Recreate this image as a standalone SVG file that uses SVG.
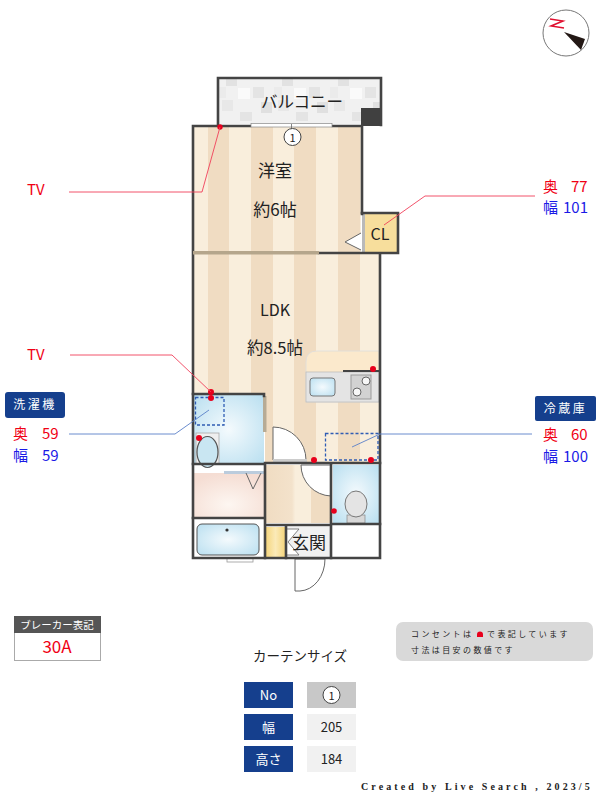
<svg xmlns="http://www.w3.org/2000/svg" width="600" height="800" viewBox="0 0 600 800">
<style>
text{font-family:"Noto Sans CJK JP","Noto Sans",sans-serif;fill:#222}
.m{text-anchor:middle}
.wall{fill:none;stroke:#444;stroke-width:2.600;stroke-linecap:square}
.rl{fill:none;stroke:#f0405a;stroke-width:.9}
.bl{fill:none;stroke:#5a80c8;stroke-width:.9}
.dash{fill:none;stroke:#2f5cb4;stroke-width:1.300;stroke-dasharray:3 2}
.out{fill:#e8001c}
.navy{fill:#153f8d}
.side{font-size:15px}
.door{fill:#fff;stroke:#666;stroke-width:1}
.note{font-size:8px;letter-spacing:2.400px}
</style>
<defs>
<linearGradient id="wood" gradientUnits="userSpaceOnUse" x1="186" y1="0" x2="229.4" y2="0" spreadMethod="repeat">
<stop offset="0" stop-color="#f9eedc"/><stop offset=".5" stop-color="#f9eedc"/><stop offset=".5" stop-color="#f0dcc2"/><stop offset="1" stop-color="#f0dcc2"/>
</linearGradient>
<radialGradient id="aqua" cx=".5" cy=".5" r=".7"><stop offset="0" stop-color="#f4fafd"/><stop offset="1" stop-color="#b9dff0"/></radialGradient>
<radialGradient id="pink" cx=".5" cy=".7" r=".7"><stop offset="0" stop-color="#fdf6f1"/><stop offset="1" stop-color="#f5ddd3"/></radialGradient>
<linearGradient id="yel" x1="0" x2="1" y1="0" y2="0"><stop offset="0" stop-color="#f5d67e"/><stop offset=".5" stop-color="#fbeab8"/><stop offset="1" stop-color="#f5d67e"/></linearGradient>
<linearGradient id="hall" x1="0" x2="1" y1="0" y2="0"><stop offset="0" stop-color="#f0dcc2"/><stop offset=".4" stop-color="#f3e2cb"/><stop offset=".45" stop-color="#f9eedc"/><stop offset=".7" stop-color="#f9eedc"/><stop offset=".7" stop-color="#f0dcc2"/><stop offset="1" stop-color="#f0dcc2"/></linearGradient>
<pattern id="tile" patternUnits="userSpaceOnUse" x="218" y="78" width="56" height="45">
<rect width="56" height="45" fill="#f1f1f1"/>
<rect x="8" y="1" width="11" height="7" fill="#e2e2e2"/><rect x="35" y="9" width="11" height="11" fill="#e4e4e4"/>
<rect x="20" y="10" width="12" height="11" fill="#fafafa"/><rect x="4" y="22" width="11" height="11" fill="#e8e8e8"/>
<rect x="43" y="24" width="11" height="11" fill="#e0e0e0"/><rect x="22" y="34" width="12" height="9" fill="#e4e4e4"/>
<rect x="0" y="9" width="8" height="11" fill="#ebebeb"/>
</pattern>
</defs>

<g id="balcony">
<rect x="218" y="78" width="163" height="46" fill="url(#tile)"/>
<rect x="361" y="108" width="21" height="18" fill="#404040"/>
<path class="wall" d="M218 125V78H381V125"/>
<text class="m" x="302" y="108" font-size="16.500">バルコニー</text>
</g>

<g id="room-western">
<rect x="193" y="126" width="168" height="126" fill="url(#wood)"/>
<text class="m" x="275" y="177" font-size="17">洋室</text>
<text class="m" x="275" y="216" font-size="17">約6帖</text>
</g>

<g id="room-ldk">
<rect x="193" y="254" width="186" height="140" fill="url(#wood)"/>
<rect x="265" y="394" width="114" height="69" fill="url(#wood)"/>
<text class="m" x="275" y="316" font-size="16">LDK</text>
<text class="m" x="275" y="354" font-size="16.500">約8.5帖</text>
</g>

<g id="closet">
<rect x="363" y="214" width="35" height="39" fill="#f7de9c"/>
<rect x="362" y="214" width="3" height="39" fill="#b9b9b9"/>
<path d="M361 233L345 242L361 250" fill="#fff" stroke="#666" stroke-width="1"/>
<path class="wall" d="M362 213H398V253H319"/>
<text class="m" x="380" y="240" font-size="16">CL</text>
</g>

<g id="kitchen">
<path d="M306 402V362Q306 351 317 351H379V402Z" fill="#fbe9cc" stroke="#ddd" stroke-width=".8"/>
<rect x="306" y="372" width="73" height="30" fill="#e4e4e4" stroke="#bdbdbd" stroke-width=".8"/>
<rect x="310" y="378" width="25" height="18" rx="3" fill="url(#aqua)" stroke="#777"/>
<rect x="351" y="375" width="20" height="24" fill="#d2d2d2" stroke="#999"/>
<circle cx="366" cy="381" r="4" fill="#f7f7f7" stroke="#666"/><circle cx="357" cy="392" r="4" fill="#f7f7f7" stroke="#666"/>
<path d="M343 371H380" stroke="#444" stroke-width="2"/>
</g>

<g id="washroom">
<rect x="193" y="395" width="71" height="69" fill="url(#aqua)"/>
<rect x="196" y="433" width="23" height="31" fill="#efefef" stroke="#aaa" stroke-width=".8"/>
<ellipse cx="207.500" cy="452" rx="10.500" ry="15.500" fill="#c9e6f2" stroke="#555" stroke-width="1.200"/>
<rect x="195.500" y="397.500" width="28.500" height="27.500" class="dash"/>
<rect x="263" y="396" width="3.500" height="36" fill="#b7ab95"/>
<path class="wall" d="M193 394H264V396"/>
</g>

<g id="ldk-door">
<path class="door" d="M273 460V427A33 33 0 0 1 306 460Z"/>
<rect x="273" y="459" width="34" height="3" fill="#ccc"/>
</g>

<g id="dressing">
<rect x="193" y="473" width="71" height="45" fill="url(#pink)"/>
<rect x="224" y="471" width="40" height="3" fill="#bcd"/>
<path d="M246 473L253 489L261 473" fill="none" stroke="#666" stroke-width="1"/>
</g>

<g id="bath">
<rect x="193" y="520" width="71" height="38" fill="#fff"/>
<rect x="197" y="524" width="62" height="31" rx="5" fill="url(#aqua)" stroke="#555" stroke-width="1"/>
<circle cx="227" cy="530" r="1.600" fill="#333"/>
<rect x="227" y="558" width="26" height="4" fill="#fff" stroke="#999" stroke-width=".8"/>
</g>

<g id="hall">
<rect x="266" y="465" width="65" height="58" fill="url(#hall)"/>
<path class="door" d="M301 465A31 31 0 0 0 331 496V465Z"/>
</g>

<g id="toilet">
<rect x="333" y="465" width="46" height="58" fill="url(#aqua)"/>
<rect x="347" y="515" width="18" height="8" fill="#d8d8d8" stroke="#888" stroke-width=".7"/>
<ellipse cx="356" cy="504" rx="11" ry="13" fill="#e4e4e4" stroke="#777"/>
</g>

<g id="entrance">
<rect x="266" y="527" width="19" height="31" fill="url(#yel)"/>
<rect x="287" y="527" width="44" height="31" fill="#f1f1f1"/>
<path d="M287 529H299L288 542L299 555H287" fill="#fff" stroke="#666" stroke-width=".8"/>
<path class="door" d="M295 559V591H300A26 32 0 0 0 325 559Z"/>
<text class="m" x="309" y="549" font-size="17">玄関</text>
</g>

<g id="walls">
<path class="wall" d="M193 126H250M333 126H362V214M193 126V558H380V254"/>
<path class="wall" d="M193 464H264M193 518H264M265 465V558M265 463H380M331 463V558M331 524H380M265 525H331M286 526V558"/>
<rect x="193" y="251" width="126" height="3.500" fill="#b5a68c"/>
<rect x="251" y="123.500" width="81" height="3.500" fill="#fff" stroke="#888" stroke-width=".7"/>
<path d="M291.500 124V130" stroke="#666" stroke-width=".8"/>
<circle cx="292.500" cy="137" r="8.500" fill="#fff" stroke="#444"/>
<text class="m" x="292.500" y="141.500" font-size="11">1</text>
</g>

<g id="fridge-space">
<rect x="325.500" y="433.500" width="52.500" height="26.500" class="dash"/>
</g>

<g id="outlets">
<circle class="out" cx="220" cy="127" r="2.700"/>
<circle class="out" cx="211" cy="392" r="3"/><circle class="out" cx="211" cy="398" r="3"/>
<circle class="out" cx="373" cy="369" r="3"/><circle class="out" cx="314" cy="460" r="3"/><circle class="out" cx="371" cy="460" r="3"/>
<circle class="out" cx="199" cy="438" r="3"/><circle class="out" cx="334" cy="511" r="2.800"/>
</g>

<g id="connectors">
<path class="rl" d="M69 192H202L220 127"/>
<path class="rl" d="M70 355H172L211 392"/>
<path class="rl" d="M535 196H425L384 225"/>
<path class="bl" d="M69 434H175L209 410"/>
<path class="bl" d="M532 434H380L352 447"/>
</g>

<g id="tv-labels">
<text style="fill:#f00014" class="side" x="27" y="195">TV</text>
<text style="fill:#f00014" class="side" x="27" y="360">TV</text>
</g>

<g id="cl-size">
<text style="fill:#f00014" class="side" x="543" y="192">奥</text><text style="fill:#f00014" class="side" x="571" y="192">77</text>
<text style="fill:#1a1ae6" class="side" x="543" y="213">幅</text><text style="fill:#1a1ae6" class="side" x="563" y="213">101</text>
</g>

<g id="washer">
<rect class="navy" x="5" y="392" width="60" height="26" rx="3"/>
<text class="m" style="fill:#fff" x="35" y="409" font-size="12" letter-spacing="2.500">洗濯機</text>
<text style="fill:#f00014" class="side" x="13" y="439">奥</text><text style="fill:#f00014" class="side" x="42" y="439">59</text>
<text style="fill:#1a1ae6" class="side" x="13" y="461">幅</text><text style="fill:#1a1ae6" class="side" x="42" y="461">59</text>
</g>

<g id="fridge">
<rect class="navy" x="535" y="396" width="61" height="25" rx="2"/>
<text class="m" style="fill:#fff" x="565.500" y="413" font-size="12" letter-spacing="2.500">冷蔵庫</text>
<text style="fill:#f00014" class="side" x="543" y="440">奥</text><text style="fill:#f00014" class="side" x="571" y="440">60</text>
<text style="fill:#1a1ae6" class="side" x="543" y="462">幅</text><text style="fill:#1a1ae6" class="side" x="563" y="462">100</text>
</g>

<g id="compass">
<circle cx="566" cy="33" r="23" fill="#fff" stroke="#777" stroke-width="1"/>
<path d="M564 28L551 26L563 21L550 19" fill="none" stroke="#e01030" stroke-width="1.500"/>
<path d="M564 32L585 39L581 50Z" fill="#231815"/>
</g>

<g id="breaker">
<rect x="14.500" y="616.500" width="86" height="44" fill="#fff" stroke="#aaa"/>
<rect x="14" y="616" width="87" height="17" fill="#555"/>
<text class="m" style="fill:#fff" x="57" y="628.500" font-size="10.500">ブレーカー表記</text>
<text class="m" style="fill:#f00014" x="57" y="653" font-size="17">30A</text>
</g>

<g id="note">
<rect x="396" y="622" width="197" height="39" rx="7" fill="#d9d9d9"/>
<text class="note" x="411" y="637">コンセントは</text>
<path d="M477 637V634.500A3 3 0 0 1 483 634.500V637Z" fill="#e8001c"/>
<text class="note" x="487" y="637">で表記しています</text>
<text class="note" x="411" y="653">寸法は目安の数値です</text>
</g>

<g id="curtain-table">
<text class="m" x="300" y="661" font-size="13.500">カーテンサイズ</text>
<rect class="navy" x="244" y="682" width="49" height="26"/>
<rect class="navy" x="244" y="714" width="49" height="26"/>
<rect class="navy" x="244" y="746" width="49" height="26"/>
<rect x="307" y="682" width="49" height="26" fill="#c8c8c8"/>
<rect x="307" y="714" width="49" height="26" fill="#f1f1f1"/>
<rect x="307" y="746" width="49" height="26" fill="#f1f1f1"/>
<text class="m" style="fill:#fff" x="268.500" y="700" font-size="13">No</text>
<text class="m" style="fill:#fff" x="268.500" y="732" font-size="13">幅</text>
<text class="m" style="fill:#fff" x="268.500" y="764" font-size="13">高さ</text>
<circle cx="331.500" cy="695" r="8.500" fill="#fff" stroke="#444"/>
<text class="m" x="331.500" y="699.500" font-size="11">1</text>
<text class="m" x="331.500" y="732" font-size="13">205</text>
<text class="m" x="331.500" y="764" font-size="13">184</text>
</g>

<text x="361" y="790" style="font-family:'Liberation Serif',serif" font-size="10" font-weight="bold" letter-spacing="3.100">Created by Live Search , 2023/5</text>
</svg>
